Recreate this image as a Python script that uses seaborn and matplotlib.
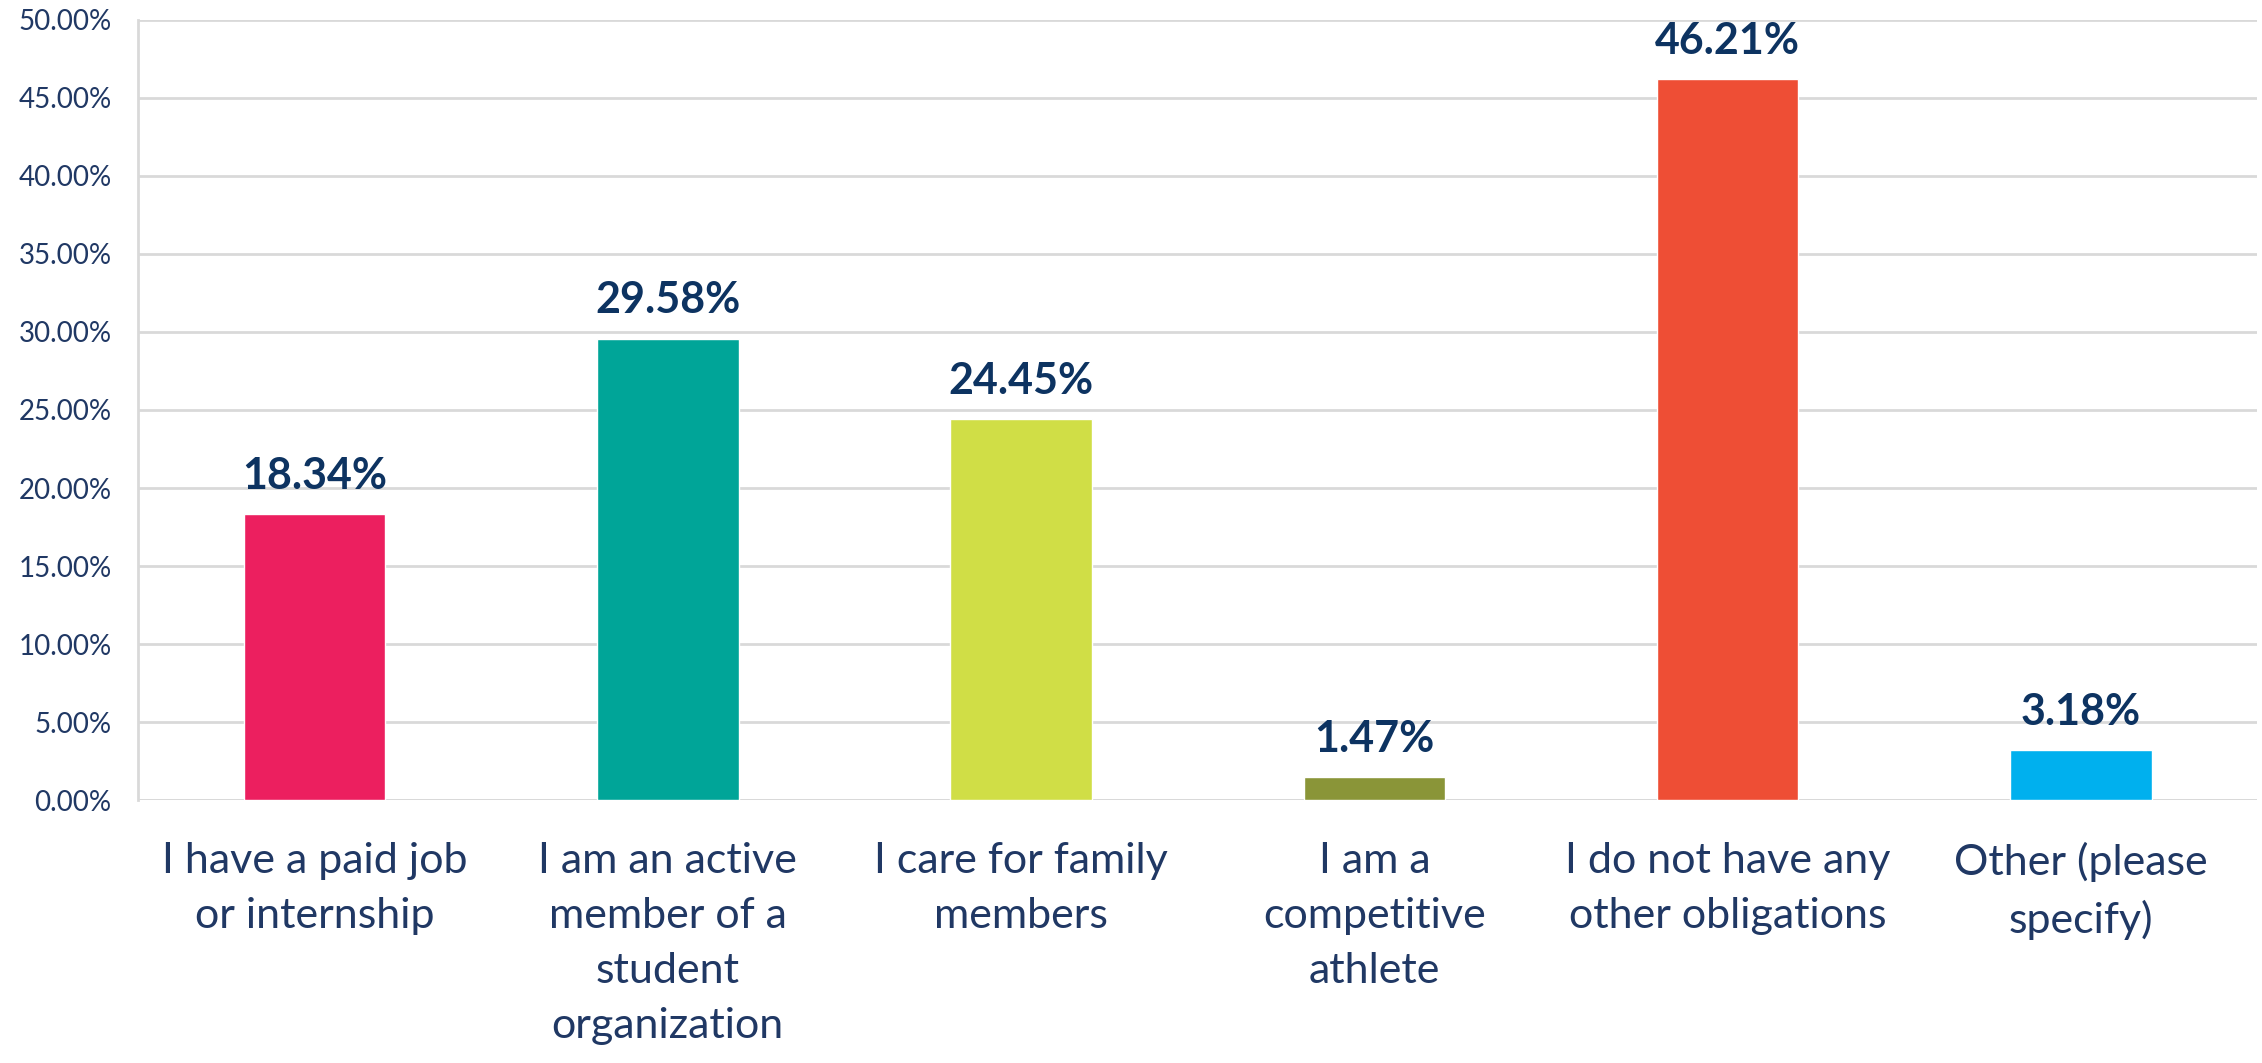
import matplotlib
matplotlib.use("Agg")
import matplotlib.pyplot as plt
import seaborn as sns
import pandas as pd
from matplotlib.ticker import FuncFormatter, FixedLocator

# Dados do gráfico
categorias = [
    "I have a paid job\nor internship",
    "I am an active\nmember of a\nstudent\norganization",
    "I care for family\nmembers",
    "I am a\ncompetitive\nathlete",
    "I do not have any\nother obligations",
    "Other (please\nspecify)",
]
valores = [18.34, 29.58, 24.45, 1.47, 46.21, 3.18]
cores = ["#EC1F5F", "#00A598", "#D0DE46", "#8A9538", "#EE4E35", "#00B0EE"]

sns.set_style("white")
plt.rcParams['font.family'] = ['Lato', 'DejaVu Sans']

cor_texto = "#203864"
cor_rotulo = "#0D3361"
cor_grade = "#D9D9D9"

df = pd.DataFrame({"categoria": categorias, "valor": valores})

fig = plt.figure(figsize=(22.62, 10.63), dpi=100)
ax = fig.add_axes([0.061, 0.2474, 0.937, 0.7338])

sns.barplot(data=df, x="categoria", y="valor", hue="categoria",
            palette=cores, width=0.4, legend=False, ax=ax,
            saturation=1, zorder=3)

ax.set_xlim(-0.5, len(categorias) - 0.5)
ax.set_ylim(0, 50)
ax.set_yticks(range(0, 51, 5))
ax.yaxis.set_major_formatter(FuncFormatter(lambda v, p: f"{v:.2f}%"))
ax.grid(axis='y', color=cor_grade, linewidth=2, zorder=0)
ax.set_axisbelow(True)

for s in ["top", "right", "bottom"]:
    ax.spines[s].set_visible(False)
ax.spines["left"].set_color(cor_grade)
ax.spines["left"].set_linewidth(2)
ax.axhline(0, color=cor_grade, linewidth=2, zorder=1)

ax.tick_params(axis='y', length=7, width=2, color=cor_grade, pad=12,
               labelsize=20, labelcolor=cor_texto)
ax.tick_params(axis='x', which='major', length=0, pad=30,
               labelsize=31, labelcolor=cor_texto)
ax.xaxis.set_minor_locator(FixedLocator([i - 0.5 for i in range(len(categorias) + 1)]))
ax.tick_params(axis='x', which='minor', length=13, width=2, color=cor_grade)
for lbl in ax.get_xticklabels():
    lbl.set_linespacing(1.55)

ax.set_xlabel("")
ax.set_ylabel("")

# Rótulos de dados
for i, v in enumerate(valores):
    ax.annotate(f"{v:.2f}%", (i, v), xytext=(0, 13), textcoords="offset points",
                ha="center", va="bottom", fontsize=31, fontweight="bold",
                color=cor_rotulo)

fig.savefig("out.png", dpi=100, facecolor="white")
